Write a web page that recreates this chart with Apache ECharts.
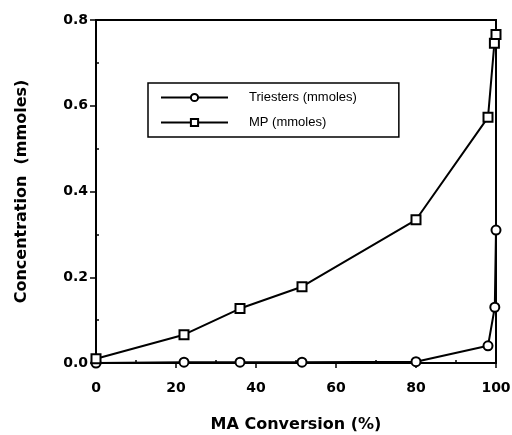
<!DOCTYPE html>
<html>
<head>
<meta charset="utf-8">
<script src="https://cdn.jsdelivr.net/npm/echarts@6/dist/echarts.min.js"></script>
<style>
  html, body { margin: 0; padding: 0; background: #fff; }
  #chart { width: 512px; height: 435px; }
</style>
</head>
<body>
<div id="chart"></div>
<script>
// values
const triestersX = [0, 22, 36, 51.5, 80, 98, 99.7, 100];
const triestersY = [0, 0.002, 0.002, 0.002, 0.003, 0.04, 0.13, 0.31];
const mpX = [0, 22, 36, 51.5, 80, 98, 99.6, 100];
const mpY = [0.01, 0.066, 0.127, 0.178, 0.334, 0.573, 0.746, 0.766];
const xTicks = [0, 20, 40, 60, 80, 100];
const yTicks = [0, 0.2, 0.4, 0.6, 0.8];
const seriesNames = ['Triesters (mmoles)', 'MP (mmoles)'];

const pairs = (xs, ys) => xs.map((x, i) => [x, ys[i]]);

const chart = echarts.init(document.getElementById('chart'));
const boldFont = 'DejaVu Sans, Liberation Sans, sans-serif';
const legendFont = 'Liberation Sans, Arial, sans-serif';

const option = {
  animation: false,
  backgroundColor: '#fff',
  grid: {
    left: 96,
    right: 16,
    top: 20,
    bottom: 72,
    outerBoundsMode: 'none',
    containLabel: false,
    show: true,
    borderColor: '#000',
    borderWidth: 2,
  },
  legend: {
    orient: 'vertical',
    left: 148,
    top: 83,
    data: seriesNames,
    itemWidth: 67,
    itemHeight: 9,
    itemGap: 12,
    borderColor: '#000',
    borderWidth: 1.5,
    padding: [8, 42, 8, 12],
    textStyle: {
      fontFamily: legendFont,
      fontSize: 13,
      color: '#000',
      padding: [0, 0, 0, 16],
    },
  },
  xAxis: {
    type: 'value',
    min: xTicks[0],
    max: xTicks[xTicks.length - 1],
    interval: 20,
    name: 'MA Conversion (%)',
    nameLocation: 'middle',
    nameGap: 54,
    nameTextStyle: { fontFamily: boldFont, fontWeight: 'bold', fontSize: 16, color: '#000' },
    axisLine: { show: true, lineStyle: { color: '#000', width: 2 } },
    axisTick: { show: true, length: 5, lineStyle: { color: '#000', width: 1.5 } },
    minorTick: { show: true, splitNumber: 2, length: -3, lineStyle: { color: '#000', width: 1.5 } },
    axisLabel: {
      fontFamily: boldFont,
      fontWeight: 'bold',
      fontSize: 14,
      color: '#000',
      margin: 18,
    },
    splitLine: { show: false },
  },
  yAxis: {
    type: 'value',
    min: yTicks[0],
    max: yTicks[yTicks.length - 1],
    interval: 0.2,
    name: 'Concentration  (mmoles)',
    nameLocation: 'middle',
    nameGap: 66,
    nameTextStyle: { fontFamily: boldFont, fontWeight: 'bold', fontSize: 16, color: '#000' },
    axisLine: { show: true, lineStyle: { color: '#000', width: 2 } },
    axisTick: { show: true, length: 6, lineStyle: { color: '#000', width: 1.5 } },
    minorTick: { show: true, splitNumber: 2, length: -3, lineStyle: { color: '#000', width: 1.5 } },
    axisLabel: {
      fontFamily: boldFont,
      fontWeight: 'bold',
      fontSize: 14,
      color: '#000',
      margin: 8,
      formatter: (v) => v.toFixed(1),
    },
    splitLine: { show: false },
  },
  series: [
    {
      name: seriesNames[0],
      type: 'line',
      data: pairs(triestersX, triestersY),
      symbol: 'emptyCircle',
      symbolSize: 9,
      lineStyle: { color: '#000', width: 2 },
      itemStyle: { color: '#000', borderColor: '#000', borderWidth: 2 },
      z: 3,
    },
    {
      name: seriesNames[1],
      type: 'line',
      data: pairs(mpX, mpY),
      symbol: 'emptyRect',
      symbolSize: 9,
      lineStyle: { color: '#000', width: 2 },
      itemStyle: { color: '#000', borderColor: '#000', borderWidth: 2 },
      z: 4,
    },
  ],
};

chart.setOption(option);
</script>
</body>
</html>
